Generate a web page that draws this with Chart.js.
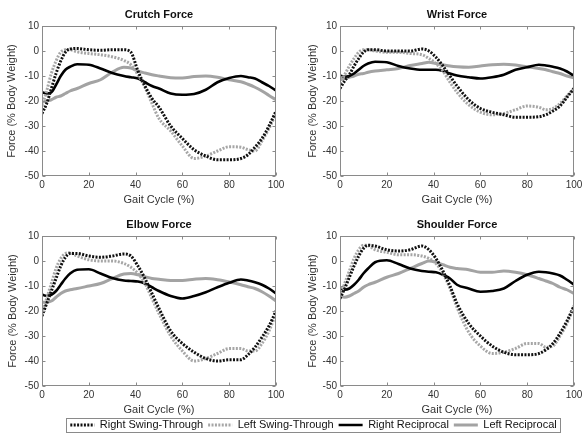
<!DOCTYPE html>
<html><head><meta charset="utf-8">
<script src="https://cdn.jsdelivr.net/npm/chart.js@4.4.1/dist/chart.umd.min.js"></script>
<style>
html,body{margin:0;padding:0;background:#fff;overflow:hidden;width:582px;height:437px;position:relative;}
canvas{position:absolute;}
</style></head><body>
<canvas id="c0" width="291" height="208" style="left:0;top:0"></canvas>
<canvas id="c1" width="291" height="208" style="left:298px;top:0"></canvas>
<canvas id="c2" width="291" height="208" style="left:0;top:210px"></canvas>
<canvas id="c3" width="291" height="208" style="left:298px;top:210px"></canvas>
<canvas id="c4" width="582" height="50" style="left:0;top:400px"></canvas>
<script>
// ---- data ----
const gait = [0,2,4,6,8,10,12,15,20,25,30,35,38,41,44,47,50,55,60,65,70,75,80,85,88,91,94,97,100];
const seriesNames = ['Right Swing-Through','Left Swing-Through','Right Reciprocal','Left Reciprocal'];
const panelTitles = ['Crutch Force','Wrist Force','Elbow Force','Shoulder Force'];
const xAxisTitle = 'Gait Cycle (%)';
const yAxisTitle = 'Force (% Body Weight)';
const xTicks = [0,20,40,60,80,100];
const yTicks = [-50,-40,-30,-20,-10,0,10];

const crutchRST = [-25,-21,-15,-9,-4,-0.5,0.8,1,0.5,0.3,0.5,0.5,-0.5,-8,-14,-19,-22.5,-30,-35,-39.5,-42,-43.5,-43.5,-43,-41.5,-38.5,-35,-30,-24];
const crutchLST = [-22,-16,-9,-4,-0.5,0.5,0.5,-0.3,-1,-1.5,-2.3,-3.8,-5.5,-9.5,-14.5,-21,-27,-32,-38,-43,-42,-40,-38.3,-38.5,-39.5,-40,-36,-31,-25];
const crutchRR  = [-16.5,-17,-16.5,-13.5,-10,-7.5,-6.3,-5.3,-5.5,-7,-8.8,-10,-10.5,-11,-12.5,-14,-15,-17,-17.5,-17.2,-15.5,-12.5,-10.8,-10,-10.5,-11,-12.5,-14,-15.8];
const crutchLR  = [-20.5,-20,-19.5,-18.5,-18,-17,-16,-15,-13,-11.5,-8.5,-6.5,-6.8,-8,-8.8,-9.5,-10,-10.7,-10.8,-10.2,-10,-10.5,-11.5,-12.3,-13.3,-14.5,-16,-17.8,-19.5];

const wristRST = [-15,-12,-9.5,-6,-3,-0.5,0.5,0.5,0,0,0,0.8,0,-2.5,-6,-10,-14,-19.5,-23,-24.5,-25.5,-26.5,-26.5,-26.3,-25.5,-24,-22,-18.5,-15];
const wristLST = [-13,-9.5,-6,-3,-0.5,0.5,0.5,0,-0.5,-0.5,-1,-1.5,-3,-5,-8,-12.5,-16.5,-21.5,-24.5,-25.5,-25,-23.5,-22,-22.5,-23.5,-23,-21,-18,-15];
const wristRR  = [-9.8,-10.3,-10,-9,-7.5,-6,-5,-4.3,-4.5,-6,-7,-7.5,-7.5,-7.5,-8,-9,-9.8,-10.5,-11,-10.5,-9.5,-7.5,-6.5,-5.5,-5.8,-6.3,-7,-8.2,-10];
const wristLR  = [-11.5,-11,-10.5,-10,-9.3,-9,-8.5,-8,-7.5,-7,-5.8,-5,-4.5,-5,-5.5,-6,-6.3,-6.5,-6,-5.5,-5.3,-5.6,-6.3,-7,-7.5,-8.3,-9,-10,-10.8];

const elbowRST = [-22,-17,-12,-7,-2,1.5,3,3,2,1.5,2,2.8,2,-2,-7,-13,-19,-28,-33,-36.5,-39,-40,-39.5,-39.5,-37.5,-34.5,-30.5,-26,-20];
const elbowLST = [-21,-15,-9,-3,1,3,3.3,2,0.5,0,0,-1,-2.5,-5,-9,-15,-21,-30,-36,-40,-39,-37,-35,-35,-36,-36,-33,-28,-21];
const elbowRR  = [-13.4,-14,-13.5,-12,-9.5,-7,-5,-3.5,-3.3,-5,-6.8,-7.8,-8,-8.2,-9,-10.5,-12,-14,-15,-14,-12.5,-10.5,-8.7,-7.4,-7.8,-8.5,-9.5,-11,-13];
const elbowLR  = [-16.5,-16.5,-16,-14.5,-13,-12,-11.5,-11,-10,-9,-7,-5.2,-5,-5.5,-6.3,-7,-7.3,-7.8,-7.8,-7.3,-7,-7.5,-8.4,-9.5,-10.3,-11,-12.3,-14,-16];

const shoulderRST = [-15,-11,-6.5,-2,2,5,6.3,6,4.5,4,4.5,6,4.5,1,-4,-10,-17,-25,-30,-34,-36.5,-37.5,-37.5,-37,-35.5,-33,-29,-24,-18];
const shoulderLST = [-14,-9,-4,1,4.5,6.3,6.2,4.5,3.5,2.5,2.5,2,1,-1,-5,-11,-18.5,-28.5,-34,-37,-36.5,-35,-33,-33,-34.5,-34,-30,-25,-18];
const shoulderRR  = [-11,-11.5,-11,-9.5,-7.5,-5,-3,-0.5,0.3,-1.2,-3,-4,-4.3,-4.5,-5.5,-7,-9.5,-11,-12.3,-12,-11,-8,-5.5,-4.3,-4.5,-5,-5.8,-7.5,-9.5];
const shoulderLR  = [-14,-14.5,-14,-13,-12,-10.5,-9.5,-8.5,-6.5,-5,-3,-1,0,-0.5,-1.5,-2.5,-3,-3.5,-4.5,-4.5,-4,-4.5,-5.5,-7,-8,-9,-10.5,-11.5,-13];

const panelData = [
  [crutchRST, crutchLST, crutchRR, crutchLR],
  [wristRST, wristLST, wristRR, wristLR],
  [elbowRST, elbowLST, elbowRR, elbowLR],
  [shoulderRST, shoulderLST, shoulderRR, shoulderLR]
];

// ---- styles ----
const FONT = "'Liberation Sans', Arial, Helvetica, sans-serif";
Chart.defaults.font.family = FONT;
const FRAME = '#8a8a8a';
const TXT = '#333333';
const seriesStyles = [
  {borderColor:'#111111', borderWidth:3, borderDash:[2,1.4]},
  {borderColor:'#a6a6a6', borderWidth:3, borderDash:[2,1.4]},
  {borderColor:'#000000', borderWidth:2.6, borderDash:[]},
  {borderColor:'#a3a3a3', borderWidth:3, borderDash:[]}
];

const framePlugin = {
  id: 'frameTicks',
  afterDatasetsDraw(chart) {
    const {ctx, chartArea: a, scales} = chart;
    const L = Math.round(a.left) + 0.5, R = Math.round(a.right) - 0.5;
    const T = Math.round(a.top) + 0.5, B = Math.round(a.bottom) - 0.5;
    ctx.save();
    ctx.strokeStyle = FRAME; ctx.lineWidth = 1; ctx.setLineDash([]);
    ctx.strokeRect(L, T, R - L, B - T);
    ctx.beginPath();
    xTicks.forEach(v => {
      const p = Math.round(scales.x.getPixelForValue(v)) + 0.5;
      ctx.moveTo(p, B); ctx.lineTo(p, B - 3);
      ctx.moveTo(p, T); ctx.lineTo(p, T + 3);
    });
    yTicks.forEach(v => {
      const p = Math.round(scales.y.getPixelForValue(v)) + 0.5;
      ctx.moveTo(L, p); ctx.lineTo(L + 3, p);
      ctx.moveTo(R, p); ctx.lineTo(R - 3, p);
    });
    ctx.stroke();
    ctx.restore();
  }
};

function makePanel(id, idx, yTitlePad) {
  new Chart(document.getElementById(id), {
    type: 'line',
    data: {
      datasets: panelData[idx].map((vals, k) => Object.assign({
        label: seriesNames[k],
        data: gait.map((g, i) => ({x: g, y: vals[i]})),
        pointRadius: 0, fill: false, cubicInterpolationMode: 'monotone',
        borderCapStyle: 'butt', borderJoinStyle: 'round'
      }, seriesStyles[k]))
    },
    options: {
      responsive: false, animation: false, events: [],
      layout: {padding: {left: 0, right: 15, top: 0, bottom: 0}},
      plugins: {
        legend: {display: false}, tooltip: {enabled: false},
        title: {display: true, text: panelTitles[idx], fullSize: false, color: '#111',
                font: {size: 11, weight: 'bold'}, padding: {top: 8, bottom: 4.8}}
      },
      scales: {
        x: {
          type: 'linear', min: 0, max: 100,
          afterBuildTicks: s => { s.ticks = xTicks.map(v => ({value: v})); },
          ticks: {font: {size: 10}, color: TXT, padding: 3, maxRotation: 0, autoSkip: false},
          grid: {display: false, drawTicks: false}, border: {display: false},
          title: {display: true, text: xAxisTitle, color: TXT, font: {size: 11}, padding: {top: 0, bottom: 1.4}},
          afterFit: s => { s.height = 32; }
        },
        y: {
          type: 'linear', min: -50, max: 10,
          afterBuildTicks: s => { s.ticks = yTicks.map(v => ({value: v})); },
          ticks: {font: {size: 10}, color: TXT, padding: 3, autoSkip: false},
          grid: {display: false, drawTicks: false}, border: {display: false},
          title: {display: true, text: yAxisTitle, color: TXT, font: {size: 11}, padding: {top: yTitlePad, bottom: 0}},
          afterFit: s => { s.width = 42; }
        }
      }
    },
    plugins: [framePlugin]
  });
}

makePanel('c0', 0, 5.8);
makePanel('c1', 1, 8.4);
makePanel('c2', 2, 6.8);
makePanel('c3', 3, 8.4);

// ---- legend ----
const legendBoxPlugin = {
  id: 'legendBox',
  afterDraw(chart) {
    const hb = chart.legend && chart.legend.legendHitBoxes;
    if (!hb || !hb.length) return;
    const first = hb[0], last = hb[hb.length - 1];
    const L = Math.round(first.left - 4) + 0.5;
    const R = Math.round(last.left + last.width + 3) + 0.5;
    const T = Math.round(first.top - 2) + 0.5;
    const B = Math.round(first.top + first.height + 1.5) + 0.5;
    const ctx = chart.ctx;
    ctx.save();
    ctx.strokeStyle = FRAME; ctx.lineWidth = 1; ctx.setLineDash([]);
    ctx.strokeRect(L, T, R - L, B - T);
    ctx.restore();
  }
};

new Chart(document.getElementById('c4'), {
  type: 'line',
  data: {datasets: seriesNames.map((n, k) => Object.assign({label: n, data: []}, seriesStyles[k]))},
  options: {
    responsive: false, animation: false, events: [],
    layout: {padding: {left: 45, right: 0, top: 14.5, bottom: 0}},
    scales: {x: {display: false}, y: {display: false}},
    plugins: {
      tooltip: {enabled: false},
      title: {display: false},
      legend: {
        display: true, position: 'top', align: 'center',
        labels: {
          usePointStyle: true, pointStyleWidth: 24, padding: 5,
          font: {size: 11}, color: '#111',
          generateLabels: chart => chart.data.datasets.map((d, i) => ({
            text: d.label, strokeStyle: d.borderColor, fillStyle: d.borderColor,
            lineWidth: d.borderWidth, lineDash: d.borderDash, lineCap: 'butt',
            pointStyle: 'line', hidden: false, datasetIndex: i, fontColor: '#111'
          }))
        }
      }
    }
  },
  plugins: [legendBoxPlugin]
});
</script>
</body></html>
